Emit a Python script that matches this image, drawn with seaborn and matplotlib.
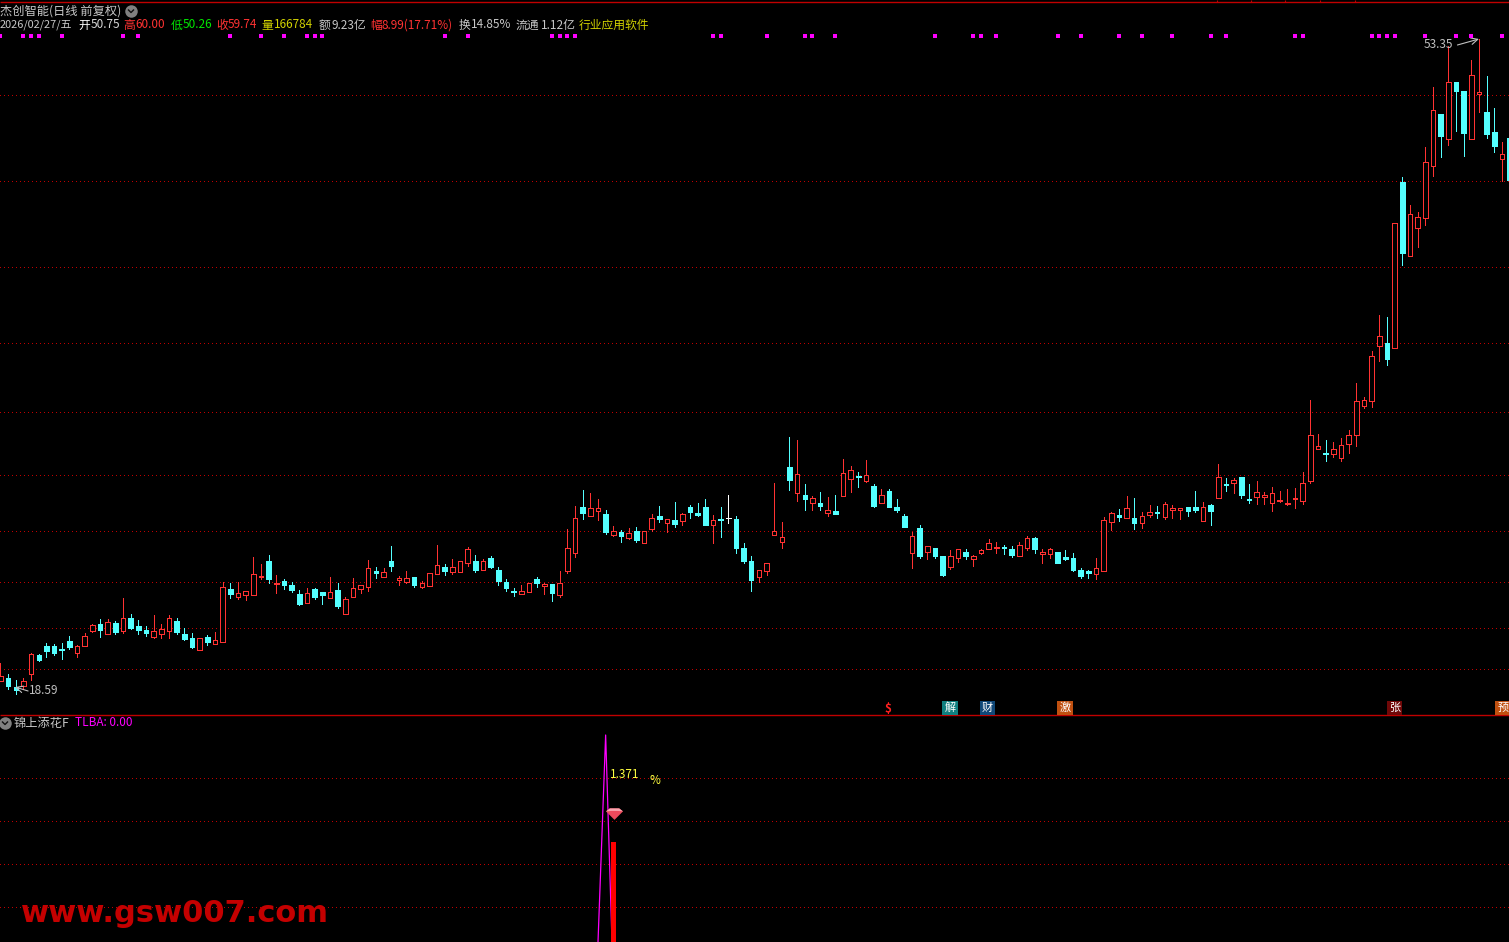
import numpy as np
import pandas as pd
import matplotlib
matplotlib.use('Agg')
import matplotlib.pyplot as plt
from matplotlib.lines import Line2D
from matplotlib.path import Path
import seaborn as sns

# K线数据
opens = [18.70, 18.85, 18.40, 18.45, 19.05, 20.00, 20.45, 20.45, 20.30, 20.70,
         20.10, 20.45, 21.20, 21.55, 21.05, 21.60, 21.20, 21.85, 21.45, 21.25,
         20.90, 21.05, 21.20, 21.70, 21.05, 20.85, 20.25, 20.90, 20.55, 20.65,
         23.30, 22.90, 23.00, 23.00, 23.90, 24.70, 23.55, 23.70, 23.50, 23.05,
         22.60, 23.30, 23.15, 22.85, 23.25, 22.05, 22.90, 23.30, 23.40, 24.20,
         23.90, 24.70, 23.75, 23.65, 23.90, 23.40, 23.45, 24.05, 24.40, 24.15,
         24.15, 24.60, 24.70, 24.25, 24.85, 24.25, 23.65, 23.20, 23.05, 23.15,
         23.80, 23.45, 23.55, 23.00, 24.20, 25.10, 27.40, 26.95, 27.20, 27.05,
         26.00, 26.15, 25.85, 26.20, 25.60, 26.30, 26.95, 26.60, 26.75, 26.70,
         27.40, 27.10, 27.40, 26.50, 26.80, 26.85, 26.80, 25.35, 24.70, 23.90,
         24.20, 26.00, 25.65, 29.40, 28.10, 28.00, 27.60, 27.60, 27.10, 27.20,
         27.95, 28.80, 28.95, 28.70, 28.45, 27.60, 28.20, 27.40, 26.95, 25.10,
         26.35, 25.15, 25.35, 24.95, 24.40, 24.85, 25.15, 24.80, 25.10, 25.30,
         25.35, 25.40, 25.30, 24.95, 25.35, 25.85, 25.05, 25.05, 25.15, 24.90,
         24.85, 24.25, 24.20, 24.05, 24.20, 26.65, 27.00, 26.85, 26.85, 26.60,
         27.00, 27.15, 26.90, 27.25, 27.25, 27.40, 27.40, 26.70, 27.50, 27.85,
         28.55, 28.60, 28.90, 27.80, 27.90, 27.90, 27.60, 27.70, 27.55, 27.80,
         27.70, 28.70, 30.30, 30.10, 30.05, 29.85, 30.55, 31.00, 32.45, 32.70,
         35.45, 35.60, 35.35, 43.65, 39.95, 41.35, 41.85, 44.45, 47.05, 45.80,
         48.65, 48.20, 45.80, 48.05, 47.15, 46.15, 44.80, 45.85]
closes = [18.95, 18.45, 18.25, 18.70, 20.05, 19.75, 20.20, 20.10, 20.25, 20.40,
          20.45, 20.95, 21.50, 21.25, 21.65, 21.15, 21.85, 21.35, 21.25, 21.10,
          21.20, 21.30, 21.85, 21.15, 20.80, 20.40, 20.85, 20.65, 20.75, 23.40,
          23.05, 23.10, 23.20, 24.05, 23.95, 23.80, 23.60, 23.50, 23.25, 22.55,
          23.10, 22.90, 23.00, 23.15, 22.45, 22.80, 23.35, 23.50, 24.35, 24.10,
          24.15, 24.45, 23.85, 23.85, 23.50, 23.60, 24.10, 24.50, 24.20, 24.40,
          24.70, 25.30, 24.25, 24.70, 24.40, 23.70, 23.35, 23.15, 23.20, 23.60,
          23.60, 23.55, 23.10, 23.60, 25.35, 26.85, 27.10, 27.35, 27.35, 26.15,
          26.20, 25.95, 26.10, 25.75, 26.20, 26.85, 26.80, 26.80, 26.55, 27.05,
          27.15, 27.00, 26.50, 26.75, 26.75, 26.85, 25.35, 24.70, 23.75, 24.25,
          24.60, 26.20, 25.90, 28.75, 29.05, 27.80, 27.85, 27.45, 27.25, 27.05,
          29.10, 29.25, 28.90, 29.00, 27.45, 28.00, 27.40, 27.25, 26.40, 25.95,
          24.95, 25.45, 24.95, 24.00, 24.95, 25.30, 24.95, 24.95, 25.25, 25.60,
          25.40, 25.35, 25.00, 25.50, 25.85, 25.30, 25.15, 25.30, 24.60, 24.80,
          24.25, 23.95, 24.10, 24.35, 26.75, 27.10, 26.90, 27.35, 26.60, 26.95,
          27.15, 27.10, 27.55, 27.35, 27.35, 27.20, 27.25, 27.40, 27.20, 28.90,
          28.50, 28.75, 28.00, 27.75, 28.15, 28.00, 28.10, 27.75, 27.60, 27.85,
          28.60, 31.00, 30.45, 30.05, 30.30, 30.50, 31.00, 32.70, 32.75, 34.95,
          35.95, 34.80, 41.60, 40.10, 42.05, 41.90, 44.65, 47.25, 45.95, 48.65,
          48.20, 46.10, 49.00, 48.15, 46.05, 45.45, 45.05, 43.75]
highs = [19.60, 19.05, 18.75, 18.85, 20.10, 20.05, 20.60, 20.55, 20.60, 20.95,
         20.50, 21.10, 21.55, 21.80, 21.80, 21.70, 22.85, 22.05, 21.75, 21.45,
         22.00, 21.55, 22.00, 21.85, 21.35, 21.10, 20.85, 21.00, 21.15, 23.65,
         23.60, 23.65, 23.20, 24.90, 24.55, 25.00, 24.00, 23.80, 23.65, 23.25,
         23.35, 23.35, 23.15, 23.90, 23.60, 22.90, 23.85, 23.50, 24.75, 24.40,
         24.35, 25.45, 23.95, 24.20, 23.90, 23.70, 24.10, 25.50, 24.55, 24.80,
         24.70, 25.40, 25.00, 24.80, 24.95, 24.40, 23.80, 23.35, 23.50, 23.60,
         23.90, 23.60, 23.55, 24.20, 26.30, 27.45, 28.25, 28.10, 27.80, 27.25,
         26.45, 26.25, 26.35, 26.40, 26.20, 27.05, 27.45, 26.80, 27.65, 27.10,
         27.50, 27.60, 27.80, 27.00, 27.40, 28.00, 26.95, 25.60, 24.95, 24.25,
         24.60, 28.60, 26.65, 30.90, 30.75, 28.55, 27.95, 28.15, 27.90, 28.00,
         29.80, 29.45, 29.15, 29.75, 28.55, 28.30, 28.30, 27.80, 27.05, 26.15,
         26.50, 25.45, 25.35, 24.95, 25.25, 25.30, 25.30, 25.00, 25.30, 25.80,
         25.65, 25.50, 25.45, 25.65, 25.95, 25.90, 25.30, 25.35, 25.15, 25.25,
         25.10, 24.35, 24.25, 24.85, 26.90, 27.15, 27.30, 27.95, 27.85, 27.15,
         27.50, 27.45, 27.65, 27.50, 27.35, 27.40, 28.20, 27.65, 27.55, 29.55,
         28.85, 28.85, 28.90, 28.55, 28.70, 28.15, 28.40, 28.20, 28.30, 28.35,
         29.15, 32.75, 31.05, 30.75, 30.65, 30.85, 31.25, 33.60, 32.90, 35.20,
         37.00, 36.90, 41.60, 43.90, 42.50, 42.15, 45.40, 48.40, 47.05, 50.45,
         48.65, 48.20, 49.75, 50.80, 48.95, 47.35, 45.65, 45.85]
lows = [18.70, 18.30, 18.05, 18.30, 18.75, 19.70, 19.90, 20.00, 19.80, 20.30,
        19.90, 20.45, 21.15, 20.90, 21.05, 21.05, 21.10, 21.30, 21.05, 20.95,
        20.85, 20.85, 20.85, 21.05, 20.75, 20.35, 20.25, 20.50, 20.55, 20.65,
        22.85, 22.80, 22.75, 23.00, 23.80, 23.60, 23.10, 23.30, 23.15, 22.50,
        22.60, 22.80, 22.55, 22.85, 22.35, 22.05, 22.90, 23.10, 23.20, 23.85,
        23.90, 24.20, 23.50, 23.60, 23.40, 23.35, 23.45, 24.05, 24.00, 24.05,
        24.15, 24.45, 24.15, 24.25, 24.35, 23.50, 23.20, 22.95, 23.05, 23.15,
        23.40, 23.05, 22.70, 22.90, 24.10, 24.90, 26.80, 26.95, 26.75, 26.05,
        25.95, 25.65, 25.80, 25.65, 25.60, 26.20, 26.65, 26.15, 26.40, 26.50,
        26.85, 26.95, 26.50, 25.60, 25.90, 26.60, 25.10, 24.60, 23.20, 23.65,
        24.00, 26.00, 25.35, 28.25, 27.70, 27.25, 27.25, 27.25, 26.95, 27.05,
        27.95, 28.15, 28.40, 28.65, 27.40, 27.60, 27.40, 27.15, 26.40, 24.35,
        24.85, 24.80, 24.85, 23.95, 24.30, 24.65, 24.80, 24.45, 25.05, 25.30,
        25.10, 25.05, 24.90, 24.95, 25.25, 25.10, 24.60, 24.85, 24.60, 24.75,
        24.20, 23.85, 23.85, 23.80, 24.20, 26.25, 26.70, 26.85, 26.30, 26.35,
        26.90, 26.85, 26.80, 26.85, 26.80, 26.95, 27.15, 26.70, 26.50, 27.85,
        28.20, 28.10, 27.85, 27.60, 27.55, 27.55, 27.20, 27.65, 27.50, 27.35,
        27.55, 28.60, 30.30, 29.70, 29.90, 29.70, 30.10, 30.45, 32.35, 32.40,
        34.70, 34.50, 35.35, 39.50, 39.95, 40.40, 41.50, 43.95, 44.90, 45.50,
        46.20, 44.95, 45.80, 47.15, 45.85, 45.15, 43.70, 43.75]

# 顶部紫色信号点所在的K线序号
signal_idx = [0, 3, 4, 5, 8, 16, 18, 30, 34, 37, 40, 41, 42, 58, 61, 72, 73, 74, 75,
              93, 94, 100, 105, 106, 109, 122, 127, 128, 130, 138, 141, 146, 149,
              153, 158, 160, 169, 170, 179, 180, 181, 182, 186, 190, 192, 196]
signal_level = 50.95

price_grid = [48.0, 43.7, 39.4, 35.6, 32.15, 29.0, 26.2, 23.65, 21.35, 19.3]

# 副图 TLBA
tlba_idx = [78, 79, 80]
tlba_vals = [0.06, 1.72, -0.28]
bar_idx = [80]
bar_vals = [0.864]
tlba_grid = [1.376, 1.032, 0.688, 0.344]

header_items = [
    (0, '2026/02/27/五', '#c8c8c8', 7.9), (78, '开', '#ffffff', 8.5), (91, '50.75', '#d8d8d8', 8.5),
    (123, '高', '#ff3232', 8.5), (135, '60.00', '#ff3232', 8.5),
    (171, '低', '#00e600', 8.5), (183, '50.26', '#00e600', 8.5),
    (216, '收', '#ff3232', 8.5), (228, '59.74', '#ff3232', 8.5),
    (261, '量', '#d2d200', 8.5), (274, '166784', '#d2d200', 8.5),
    (319, '额', '#c8c8c8', 8.5), (331, '9.23亿', '#c8c8c8', 8.5),
    (370, '幅', '#ff3232', 8.5), (382, '8.99(17.71%)', '#ff3232', 8.5),
    (459, '换', '#c8c8c8', 8.5), (471, '14.85%', '#c8c8c8', 8.5),
    (516, '流通', '#c8c8c8', 8.5), (541, '1.12亿', '#c8c8c8', 8.5),
    (579, '行业应用软件', '#d2d200', 8.5),
]
event_tags = [(950, '解', '#108080'), (987.5, '财', '#104878'), (1065, '激', '#c05010'),
              (1394.5, '张', '#700808'), (1503, '预', '#c05010')]

W, H = 1509, 942
PANE_Y = 715
RED = '#ff3232'
CYAN = '#54ffff'
GRID = '#c00000'

sns.set_theme(style='dark', rc={'axes.facecolor': 'black', 'figure.facecolor': 'black'})
plt.rcParams['font.family'] = ['Noto Sans CJK SC', 'DejaVu Sans']
plt.rcParams['axes.unicode_minus'] = False

df = pd.DataFrame({'open': opens, 'close': closes, 'high': highs, 'low': lows})
df['i'] = df.index
df['color'] = np.where(df['close'] > df['open'], RED, np.where(df['close'] < df['open'], CYAN, '#ffffff'))
df['face'] = np.where(df['close'] > df['open'], 'black', df['color'])

fig = plt.figure(figsize=(W / 100, H / 100), dpi=100, facecolor='black')
ax = fig.add_axes([0, (H - PANE_Y) / H, 1, PANE_Y / H])
ax2 = fig.add_axes([0, 0, 1, (H - PANE_Y) / H])
xlim = (-0.065, 196.93)

for a, levels in ((ax, price_grid), (ax2, tlba_grid)):
    a.hlines(levels, *xlim, colors=GRID, linewidth=0.72, linestyles=(0, (1, 3)), zorder=1,
             antialiaseds=False)
    a.set_xlim(*xlim)
    a.set_xticks([])
    a.set_yticks([])
    a.set_xlabel('')
    a.set_ylabel('')
    for s in a.spines.values():
        s.set_visible(False)

# 主图K线
ax.vlines(df['i'], df['low'], df['high'], colors=df['color'], linewidth=0.7, zorder=2, antialiaseds=False)
ax.bar(df['i'], (df['close'] - df['open']).abs(), bottom=df[['open', 'close']].min(axis=1),
       width=0.6, color=df['face'], edgecolor=df['color'], linewidth=0.7, zorder=3, antialiased=False)
sns.scatterplot(x=signal_idx, y=[signal_level] * len(signal_idx), marker='s', s=9,
                color='#ff00ff', linewidth=0, ax=ax, zorder=4, clip_on=False)
ax.set_ylim(17.0, 52.75)

peak = df['high'].idxmax()
ax.annotate('', xy=(peak, df['high'][peak]), xytext=(peak - 2.8, 50.5),
            arrowprops=dict(arrowstyle='->', color='#c0c0c0', lw=0.8, shrinkA=0, shrinkB=0))
ax.annotate('', xy=(1.9, 18.4), xytext=(3.6, 18.2),
            arrowprops=dict(arrowstyle='->', color='#c0c0c0', lw=0.8, shrinkA=0, shrinkB=0))

# 副图
ax2.bar(bar_idx, bar_vals, width=0.65, color='#ff0000', linewidth=0, zorder=3)
sns.lineplot(x=tlba_idx, y=tlba_vals, color='#ff00ff', linewidth=0.9, errorbar=None, ax=ax2, zorder=2)
gem_outer = Path([(-1, 0.25), (-0.55, 0.6), (0.55, 0.6), (1, 0.25), (0, -0.75), (-1, 0.25)], closed=True)
gem_top = Path([(-1, 0.25), (-0.55, 0.6), (0.55, 0.6), (1, 0.25), (0.4, 0.3), (-0.4, 0.3), (-1, 0.25)], closed=True)
ax2.scatter([80.1], [1.096], marker=gem_outer, s=150, color='#ee4a5c', linewidth=0, zorder=5)
ax2.scatter([80.1], [1.096], marker=gem_top, s=150, color='#f9a4ae', linewidth=0, zorder=6)
ax2.set_xlim(*xlim)
ax2.set_ylim(0.064, 1.88)
ax2.set_xlabel('')
ax2.set_ylabel('')


def px_text(x, y, s, color, size=8.8, **kw):
    return fig.text(x / W, 1 - y / H, s, color=color, fontsize=size, ha=kw.pop('ha', 'left'),
                    va=kw.pop('va', 'center'), **kw)


def px_line(xs, ys, color, lw):
    fig.add_artist(Line2D([x / W for x in xs], [1 - y / H for y in ys], color=color, linewidth=lw,
                          transform=fig.transFigure, solid_capstyle='butt'))


def px_icon(x, y):
    fig.add_artist(Line2D([x / W], [1 - y / H], marker='o', ms=9, color='#808080', mew=0,
                          transform=fig.transFigure))
    px_line([x - 3, x, x + 3], [y - 1.5, y + 1.5, y - 1.5], '#101010', 1.0)


# 分隔线
px_line([0, W], [1.5, 1.5], GRID, 1.0)
px_line([0, W], [PANE_Y, PANE_Y], GRID, 1.0)
for x in (1217, 1250.5, 1285, 1320, 1355):
    px_line([x, x], [0, 1.5], GRID, 0.8)

px_text(0, 11, '杰创智能(日线 前复权)', '#c8c8c8')
px_icon(131, 11)
for x, s, c, fs in header_items:
    px_text(x, 25, s, c, size=fs)

px_text(1424, 44, '53.35', '#c0c0c0', size=8.5)
px_text(29, 691, '18.59', '#c0c0c0', size=8.5)

px_text(888, 708, '$', '#ff2020', size=8.5, ha='center', fontweight='bold')
for x, s, c in event_tags:
    px_text(x, 708, s, '#ffffff', size=8, ha='center',
            bbox=dict(boxstyle='square,pad=0.18', facecolor=c, edgecolor='none'))

px_icon(5, 723)
px_text(14, 723, '锦上添花F', '#c8c8c8')
px_text(75, 723, 'TLBA: 0.00', '#ff00ff', size=8.5)
px_text(610, 775, '1.371', '#ffff40', size=8.5)
px_text(650, 781, '%', '#ffff40', size=8.5)

px_text(21, 922, 'www.gsw007.com', '#c40000', size=22, va='baseline',
        family='DejaVu Sans', fontweight='bold')

fig.savefig('out.png', dpi=100, facecolor='black')
plt.close(fig)
